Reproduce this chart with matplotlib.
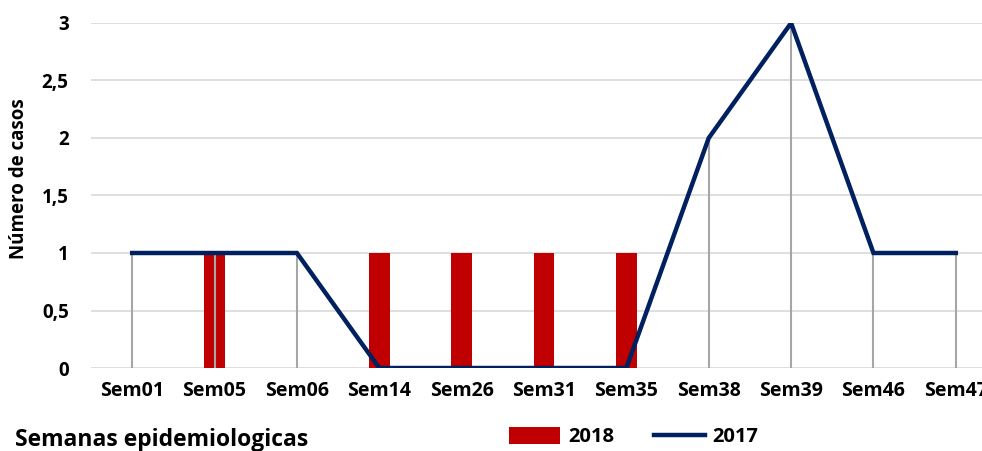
import numpy as np
import matplotlib.pyplot as plt

semanas = ['Sem01', 'Sem05', 'Sem06', 'Sem14', 'Sem26', 'Sem31', 'Sem35',
           'Sem38', 'Sem39', 'Sem46', 'Sem47']
casos_2018 = [0, 1, 0, 1, 1, 1, 1, 0, 0, 0, 0]
casos_2017 = [1, 1, 1, 0, 0, 0, 0, 2, 3, 1, 1]
yticks = [0, 0.5, 1, 1.5, 2, 2.5, 3]
ytick_labels = ['0', '0,5', '1', '1,5', '2', '2,5', '3']

plt.rcParams['font.family'] = ['Open Sans', 'DejaVu Sans']
plt.rcParams['font.weight'] = 'bold'

fig = plt.figure(figsize=(9.82, 4.51), dpi=100)
ax = fig.add_axes([91 / 982, 1 - 368 / 451, 906 / 982, 345 / 451])

x = np.arange(len(semanas))
barras = ax.bar(x, casos_2018, width=0.25, color='#C00000', label='2018', zorder=2)
# lignes de rappel verticales
ax.vlines(x, 0, casos_2017, color='#A6A6A6', lw=1.5, zorder=3)
linea, = ax.plot(x, casos_2017, color='#002060', lw=3.2, label='2017', zorder=4,
                 solid_joinstyle='miter')

ax.set_xlim(-0.5, len(semanas) - 0.5)
ax.set_ylim(0, 3)
ax.set_yticks(yticks)
ax.set_yticklabels(ytick_labels, fontsize=13.5, fontweight='bold')
ax.set_xticks(x)
ax.set_xticklabels(semanas, fontsize=14, fontweight='bold')
ax.tick_params(length=0)
ax.tick_params(axis='x', pad=9)
ax.tick_params(axis='y', pad=16)
ax.grid(axis='y', color='#D9D9D9', lw=1.2, zorder=0)
ax.set_axisbelow(True)
for s in ax.spines.values():
    s.set_visible(False)

fig.text(19 / 982, 1 - 179 / 451, 'Número de casos', fontsize=13.5,
         fontweight='bold', rotation=90, va='center', ha='center')
fig.text(15 / 982, 1 - 440 / 451, 'Semanas epidemiologicas', fontsize=16.5,
         fontweight='bold', va='center', ha='left')

ax.legend([barras, linea], ['2018', '2017'], loc='center',
          bbox_to_anchor=(634 / 982, 1 - 437 / 451),
          bbox_transform=fig.transFigure, ncol=2, frameon=False,
          fontsize=14.5, handlelength=2.5, columnspacing=2.0, handletextpad=0.4,
          handleheight=0.9)

fig.savefig('out.png', dpi=100)
